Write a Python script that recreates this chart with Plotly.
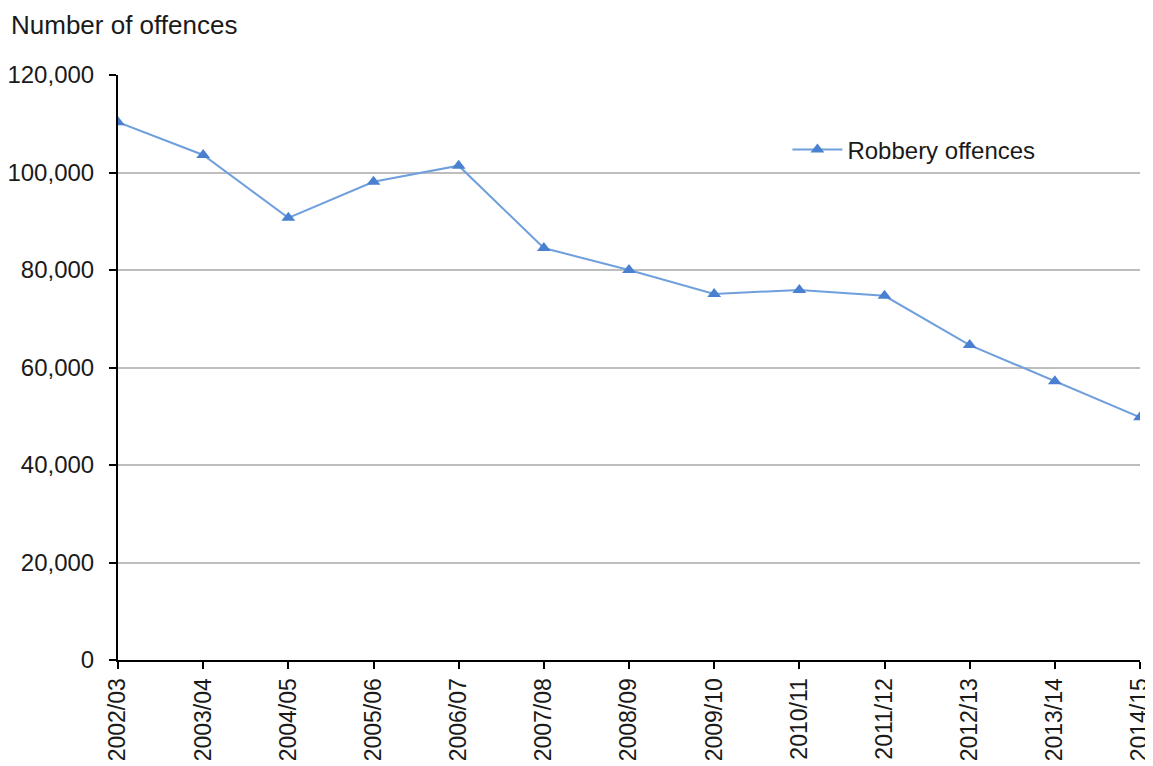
import plotly.graph_objects as go

# Robbery offences recorded by the police, 2002/03 to 2014/15
years = ["2002/03", "2003/04", "2004/05", "2005/06", "2006/07", "2007/08", "2008/09",
         "2009/10", "2010/11", "2011/12", "2012/13", "2013/14", "2014/15"]
robbery = [110300, 103600, 90700, 98100, 101400, 84500, 80000,
           75100, 75900, 74700, 64600, 57200, 49800]

y_ticks = [0, 20000, 40000, 60000, 80000, 100000, 120000]
y_labels = ["0", "20,000", "40,000", "60,000", "80,000", "100,000", "120,000"]

FONT = "Liberation Sans, Arial, sans-serif"

# page body has an 8px margin, so margins are shifted to line up the plot area
L, R, T, B = 110, 21, 67, 114
PW = 1153 - L - R
PH = 766 - T - B

fig = go.Figure()
fig.add_trace(go.Scatter(
    x=list(range(len(years))), y=robbery,
    mode="lines+markers",
    name="Robbery offences",
    line=dict(color="#6f9fdc", width=2),
    marker=dict(symbol="triangle-up", size=12, color="#4a80d0"),
))

fig.update_layout(
    width=1153, height=766,
    paper_bgcolor="white", plot_bgcolor="white",
    font=dict(family=FONT, size=24, color="#1a1a1a"),
    margin=dict(l=L, r=R, t=T, b=B, autoexpand=False),
    showlegend=True,
    legend=dict(
        x=0.655, y=0.872, xanchor="left", yanchor="middle",
        bgcolor="rgba(0,0,0,0)", font=dict(size=24, family=FONT),
        itemwidth=50,
    ),
    xaxis=dict(
        tickmode="array", tickvals=list(range(len(years))), ticktext=years,
        range=[0, len(years) - 1], tickangle=-90,
        showline=True, linecolor="black", linewidth=2,
        ticks="outside", ticklen=7, tickwidth=2, tickcolor="black",
        showgrid=False, zeroline=False, automargin=False,
        tickfont=dict(size=23),
    ),
    yaxis=dict(
        tickmode="array", tickvals=y_ticks, ticktext=y_labels,
        range=[0, 120000],
        showline=True, linecolor="black", linewidth=2,
        ticks="outside", ticklen=7, tickwidth=2, tickcolor="black",
        ticklabelstandoff=10, automargin=False,
        showgrid=True, gridcolor="#bdbdbd", gridwidth=1.5,
        zeroline=False, tickfont=dict(size=24),
    ),
    annotations=[dict(
        text="Number of offences", xref="paper", yref="paper",
        x=(2 - L) / PW, y=1 + (T - 1) / PH, xanchor="left", yanchor="top",
        showarrow=False, borderpad=0, font=dict(size=26, family=FONT),
    )],
)

fig.write_html("out.html")
